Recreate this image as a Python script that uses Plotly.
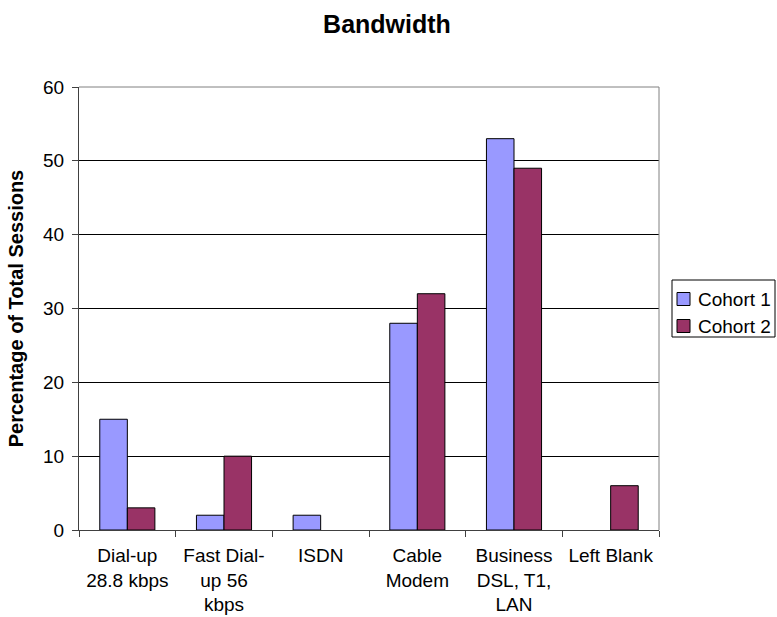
import plotly.graph_objects as go

categories = ["Dial-up<br>28.8 kbps", "Fast Dial-<br>up 56<br>kbps", "ISDN",
              "Cable<br>Modem", "Business<br>DSL, T1,<br>LAN", "Left Blank"]
series_names = ["Cohort 1", "Cohort 2"]
cohort1 = [15, 2, 2, 28, 53, None]
cohort2 = [3, 10, None, 32, 49, 6]
y_ticks = [0, 10, 20, 30, 40, 50, 60]
colors = ["#9999FF", "#993366"]

FONT = "Liberation Sans, Arial, sans-serif"
W, H = 777, 617
L, R, T, B = 79, 118, 87, 87
PW, PH = W - L - R, H - T - B


def px_x(x):
    return (x - L) / PW


def px_y(y):
    return (H - B - y) / PH


fig = go.Figure()
for name, vals, col in zip(series_names, [cohort1, cohort2], colors):
    fig.add_trace(go.Bar(x=categories, y=vals, name=name, showlegend=False,
                         marker=dict(color=col, line=dict(color="#000000", width=1))))

shapes = [
    # top and right plot-area border (gray)
    dict(type="line", xref="paper", yref="paper", x0=0, x1=1, y0=1, y1=1,
         line=dict(color="#808080", width=1)),
    dict(type="line", xref="paper", yref="paper", x0=1, x1=1, y0=0, y1=1,
         line=dict(color="#808080", width=1)),
    # legend box
    dict(type="rect", xref="paper", yref="paper", x0=px_x(672), x1=px_x(775),
         y0=px_y(337), y1=px_y(280), line=dict(color="#000000", width=1), fillcolor="white"),
]
annotations = []
row_y = [299, 326]
for name, col, ry in zip(series_names, colors, row_y):
    shapes.append(dict(type="rect", xref="paper", yref="paper",
                       x0=px_x(677), x1=px_x(690), y0=px_y(ry + 6.5), y1=px_y(ry - 6.5),
                       line=dict(color="#000000", width=1), fillcolor=col))
    annotations.append(dict(text=name, xref="paper", yref="paper", x=px_x(696), y=px_y(ry),
                            xanchor="left", yanchor="middle", showarrow=False,
                            font=dict(size=19, family=FONT, color="#000000")))

fig.update_layout(
    width=W, height=H,
    margin=dict(l=L, r=R, t=T, b=B, autoexpand=False),
    paper_bgcolor="white", plot_bgcolor="white",
    font=dict(family=FONT, color="#000000", size=19),
    title=dict(text="<b>Bandwidth</b>", x=387 / W, xanchor="center", y=1 - 24 / H, yanchor="middle",
               font=dict(size=25, family=FONT)),
    barmode="group", bargap=0.43, bargroupgap=0,
    showlegend=False,
    shapes=shapes, annotations=annotations,
)
fig.update_xaxes(
    type="category", showline=True, linecolor="#404040", linewidth=1,
    ticks="outside", tickson="boundaries", ticklen=6, tickcolor="#404040",
    tickfont=dict(size=19, family=FONT), showgrid=False, ticklabelstandoff=8,
)
fig.update_yaxes(
    range=[0, 60], tickvals=y_ticks, showline=True, linecolor="#404040", linewidth=1,
    ticks="outside", ticklen=6, tickcolor="#404040",
    tickfont=dict(size=19, family=FONT), ticklabelstandoff=4,
    showgrid=True, gridcolor="#000000", gridwidth=1, zeroline=False,
    title=dict(text="<b>Percentage of Total Sessions</b>", font=dict(size=20, family=FONT), standoff=14),
)

fig.write_html("out.html")
